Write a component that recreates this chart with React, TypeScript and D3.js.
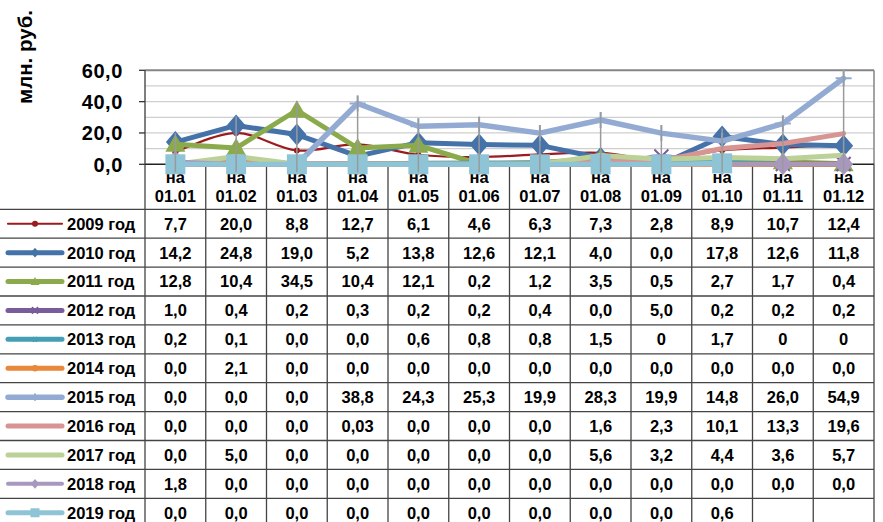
import React from "react";
import * as d3 from "d3";

const categories = ["01.01", "01.02", "01.03", "01.04", "01.05", "01.06", "01.07", "01.08", "01.09", "01.10", "01.11", "01.12"];
const yTicks = [0, 20, 40, 60];
const yGrid = [10, 20, 30, 40, 50];
const yTitle = "млн. руб.";

const s2009 = ["7,7", "20,0", "8,8", "12,7", "6,1", "4,6", "6,3", "7,3", "2,8", "8,9", "10,7", "12,4"];
const s2010 = ["14,2", "24,8", "19,0", "5,2", "13,8", "12,6", "12,1", "4,0", "0,0", "17,8", "12,6", "11,8"];
const s2011 = ["12,8", "10,4", "34,5", "10,4", "12,1", "0,2", "1,2", "3,5", "0,5", "2,7", "1,7", "0,4"];
const s2012 = ["1,0", "0,4", "0,2", "0,3", "0,2", "0,2", "0,4", "0,0", "5,0", "0,2", "0,2", "0,2"];
const s2013 = ["0,2", "0,1", "0,0", "0,0", "0,6", "0,8", "0,8", "1,5", "0", "1,7", "0", "0"];
const s2014 = ["0,0", "2,1", "0,0", "0,0", "0,0", "0,0", "0,0", "0,0", "0,0", "0,0", "0,0", "0,0"];
const s2015 = ["0,0", "0,0", "0,0", "38,8", "24,3", "25,3", "19,9", "28,3", "19,9", "14,8", "26,0", "54,9"];
const s2016 = ["0,0", "0,0", "0,0", "0,03", "0,0", "0,0", "0,0", "1,6", "2,3", "10,1", "13,3", "19,6"];
const s2017 = ["0,0", "5,0", "0,0", "0,0", "0,0", "0,0", "0,0", "5,6", "3,2", "4,4", "3,6", "5,7"];
const s2018 = ["1,8", "0,0", "0,0", "0,0", "0,0", "0,0", "0,0", "0,0", "0,0", "0,0", "0,0", "0,0"];
const s2019 = ["0,0", "0,0", "0,0", "0,0", "0,0", "0,0", "0,0", "0,0", "0,0", "0,6", "", ""];

const seriesNames = ["2009 год", "2010 год", "2011 год", "2012 год", "2013 год", "2014 год", "2015 год", "2016 год", "2017 год", "2018 год", "2019 год"];
const seriesValues = [s2009, s2010, s2011, s2012, s2013, s2014, s2015, s2016, s2017, s2018, s2019];

type Style = { color: string; width: number; marker: string; size: number; smooth: boolean };
const styles: Style[] = [
  { color: "#9B1B1F", width: 2.2, marker: "circle", size: 3, smooth: true },
  { color: "#4572A9", width: 5, marker: "diamond", size: 10, smooth: false },
  { color: "#8AAA4C", width: 5, marker: "triangle", size: 10, smooth: false },
  { color: "#7A5C9A", width: 5, marker: "x", size: 7, smooth: false },
  { color: "#449FB5", width: 5, marker: "star", size: 5, smooth: false },
  { color: "#E8883A", width: 5, marker: "circle", size: 7, smooth: false },
  { color: "#93ABD3", width: 5.5, marker: "plus", size: 8, smooth: false },
  { color: "#D79493", width: 5, marker: "none", size: 0, smooth: false },
  { color: "#BBD198", width: 5, marker: "none", size: 0, smooth: false },
  { color: "#A898C0", width: 4, marker: "diamond", size: 10, smooth: false },
  { color: "#8EC4D6", width: 5, marker: "square", size: 10, smooth: false },
];

const parse = (s: string) => (s === "" ? null : +s.replace(",", "."));

const W = 883, H = 522;
const plotL = 145, plotR = 874, plotT = 70.3, plotB = 164.3;
const tableTop = 209.3, rowH = 28.9;
const font = "'Liberation Sans', Arial, sans-serif";

function Marker({ x, y, st, scale = 1 }: { x: number; y: number; st: Style; scale?: number }) {
  const s = st.size * scale;
  const c = st.color;
  switch (st.marker) {
    case "circle":
      return <circle cx={x} cy={y} r={s} fill={c} />;
    case "diamond":
      return <path d={`M${x},${y - s * 1.1}L${x + s * 0.95},${y}L${x},${y + s * 1.1}L${x - s * 0.95},${y}Z`} fill={c} />;
    case "triangle":
      return <path d={`M${x},${y - s}L${x + s},${y + s * 0.75}L${x - s},${y + s * 0.75}Z`} fill={c} />;
    case "square":
      return <rect x={x - s} y={y - s} width={2 * s} height={2 * s} fill={c} />;
    case "x":
      return <path d={`M${x - s},${y - s}L${x + s},${y + s}M${x + s},${y - s}L${x - s},${y + s}`} stroke={c} strokeWidth={2} />;
    case "star":
      return <path d={`M${x - s},${y - s}L${x + s},${y + s}M${x + s},${y - s}L${x - s},${y + s}M${x},${y - s}L${x},${y + s}`} stroke={c} strokeWidth={2} />;
    case "plus":
      return <path d={`M${x - s},${y}L${x + s},${y}M${x},${y - s}L${x},${y + s}`} stroke={c} strokeWidth={2} />;
    default:
      return null;
  }
}

export default function App() {
  const x = d3.scaleBand<string>().domain(categories).range([plotL, plotR]);
  const y = d3.scaleLinear().domain([0, 60]).range([plotB, plotT]);
  const cx = (c: string) => (x(c) as number) + x.bandwidth() / 2;

  const data = seriesValues.map((arr) => arr.map(parse));
  const makeLine = (smooth: boolean) =>
    d3
      .line<[string, number | null]>()
      .defined((d) => d[1] !== null)
      .x((d) => cx(d[0]))
      .y((d) => y(d[1] as number))
      .curve(smooth ? d3.curveCatmullRom.alpha(0.5) : d3.curveLinear);

  const maxes = categories.map((_, i) => d3.max(data, (s) => s[i] ?? 0) as number);

  return (
    <svg width={W} height={H} style={{ position: "absolute", left: 0, top: 0, background: "#fff" }} fontFamily={font} fontWeight="bold">
      {/* y title */}
      <text transform={`translate(32,57) rotate(-90)`} textAnchor="middle" fontSize={20.5}>{yTitle}</text>
      {/* gridlines */}
      {yGrid.map((g) => (
        <line key={g} x1={plotL} x2={plotR} y1={y(g)} y2={y(g)} stroke="#cfcfcf" strokeWidth={1.3} />
      ))}
      <line x1={plotL} x2={plotR} y1={y(60)} y2={y(60)} stroke="#858585" strokeWidth={2} />
      <line x1={plotR} x2={plotR} y1={y(60)} y2={plotB} stroke="#858585" strokeWidth={1.5} />
      <line x1={plotL} x2={plotL} y1={y(60)} y2={plotB} stroke="#555" strokeWidth={1.5} />
      {yTicks.map((t) => (
        <g key={t}>
          <line x1={plotL - 6} x2={plotL} y1={y(t)} y2={y(t)} stroke="#333" strokeWidth={1.3} />
          <text x={123} y={y(t)} dy="0.36em" textAnchor="end" fontSize={20} letterSpacing={0.6}>
            {String(t.toFixed(1)).replace(".", ",")}
          </text>
        </g>
      ))}
      {/* table */}
      <line x1={plotL} x2={plotR} y1={plotB} y2={plotB} stroke="#222" strokeWidth={1.5} />
      {d3.range(categories.length + 1).map((i) => {
        const xx = plotL + i * x.bandwidth();
        return <line key={i} x1={xx} x2={xx} y1={plotB} y2={H} stroke="#444" strokeWidth={1.3} />;
      })}
      {seriesNames.map((_, k) => (
        <line key={k} x1={0} x2={plotR} y1={tableTop + k * rowH} y2={tableTop + k * rowH} stroke="#444" strokeWidth={1.3} />
      ))}
      {categories.map((c) => (
        <g key={c}>
          <text x={cx(c)} y={177} dy="0.36em" textAnchor="middle" fontSize={16.5}>на</text>
          <text x={cx(c)} y={196.5} dy="0.36em" textAnchor="middle" fontSize={16.5}>{c}</text>
        </g>
      ))}
      {seriesNames.map((name, k) => {
        const yc = tableTop + k * rowH + rowH / 2;
        const st = styles[k];
        return (
          <g key={name}>
            <line x1={8} x2={62} y1={yc} y2={yc} stroke={st.color} strokeWidth={st.width} strokeLinecap="round" />
            <Marker x={35} y={yc} st={st} scale={st.marker === "circle" && st.size < 5 ? 1 : 0.45} />
            <text x={67} y={yc} dy="0.36em" fontSize={16.5}>{name}</text>
            {seriesValues[k].map((v, i) => (
              <text key={i} x={cx(categories[i])} y={yc} dy="0.36em" textAnchor="middle" fontSize={16.5}>{v}</text>
            ))}
          </g>
        );
      })}
      {/* series */}
      {data.map((vals, k) => {
        const st = styles[k];
        const pts = categories.map((c, i) => [c, vals[i]] as [string, number | null]);
        return (
          <g key={k}>
            <path d={makeLine(st.smooth)(pts) || ""} fill="none" stroke={st.color} strokeWidth={st.width} strokeLinejoin="round" strokeLinecap="round" />
            {pts.filter((p) => p[1] !== null).map((p, i) => (
              <Marker key={i} x={cx(p[0])} y={y(p[1] as number)} st={st} />
            ))}
          </g>
        );
      })}
      {/* drop lines */}
      {categories.map((c, i) => (
        <line key={c} x1={cx(c)} x2={cx(c)} y1={y(maxes[i]) - (i >= 3 ? 8 : 9)} y2={plotB + 8} stroke="#9a9a9a" strokeWidth={1.5} />
      ))}
    </svg>
  );
}
